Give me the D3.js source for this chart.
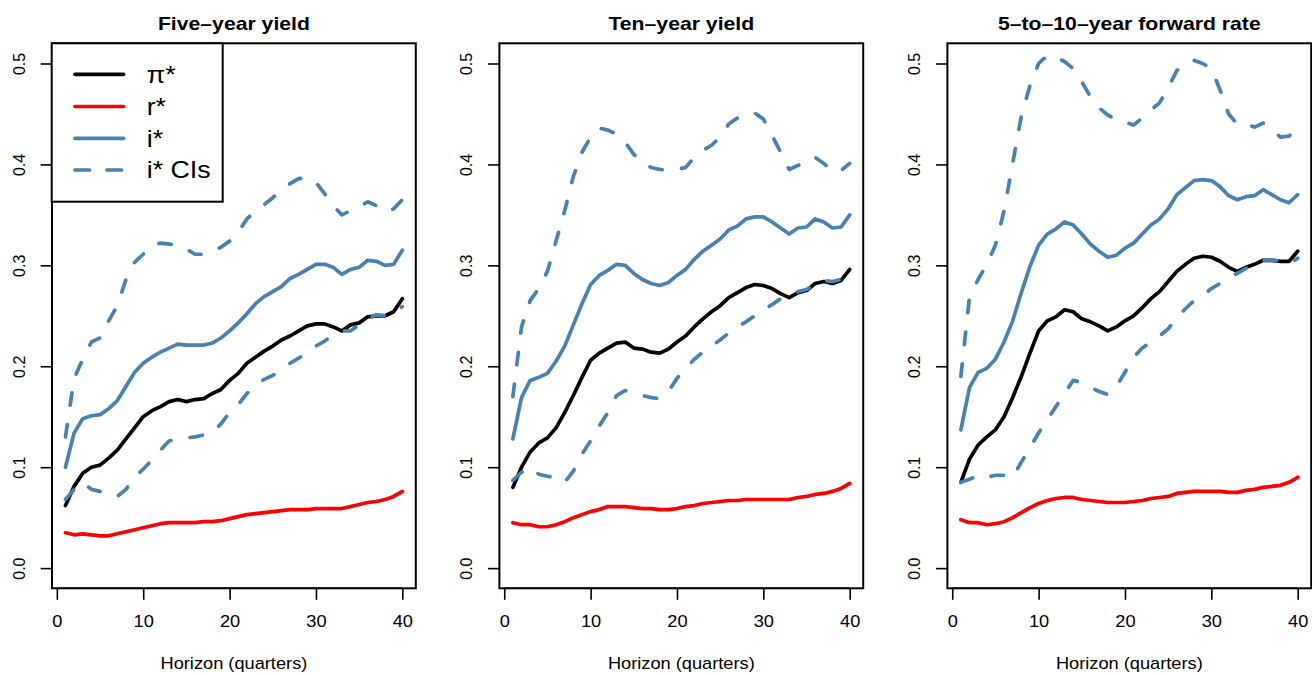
<!DOCTYPE html>
<html>
<head>
<meta charset="utf-8">
<script src="https://cdn.jsdelivr.net/npm/d3@7"></script>
<style>
  body { margin: 0; background: #fff; }
  svg { display: block; font-family: "Liberation Sans", Arial, sans-serif; }
</style>
</head>
<body>
<div id="viz"></div>
<script>
// horizon in quarters
const horizon = [1,2,3,4,5,6,7,8,9,10,11,12,13,14,15,16,17,18,19,20,
                 21,22,23,24,25,26,27,28,29,30,31,32,33,34,35,36,37,38,39,40];

const panelTitles = ["Five\u2013year yield", "Ten\u2013year yield", "5\u2013to\u201310\u2013year forward rate"];
const xTicks = [0, 10, 20, 30, 40];
const yTicks = [0, 0.1, 0.2, 0.3, 0.4, 0.5];
const legendLabels = ["\u03c0*", "r*", "i*", "i* CIs"];

// five-year yield
const fivePi = [0.062,0.081,0.094,0.100,0.102,0.109,0.117,0.128,0.139,0.150,0.156,0.160,0.165,0.167,0.165,0.167,0.168,0.173,0.177,0.186,
                0.193,0.203,0.209,0.215,0.220,0.226,0.230,0.235,0.240,0.242,0.242,0.239,0.235,0.241,0.243,0.249,0.250,0.250,0.254,0.267];
const fiveR  = [0.035,0.033,0.034,0.033,0.032,0.032,0.034,0.036,0.038,0.040,0.042,0.044,0.045,0.045,0.045,0.045,0.046,0.046,0.047,0.049,
                0.051,0.053,0.054,0.055,0.056,0.057,0.058,0.058,0.058,0.059,0.059,0.059,0.059,0.061,0.063,0.065,0.066,0.068,0.071,0.076];
const fiveI  = [0.100,0.134,0.148,0.151,0.152,0.158,0.166,0.180,0.194,0.203,0.209,0.214,0.218,0.222,0.221,0.221,0.221,0.223,0.228,0.235,
                0.243,0.252,0.262,0.269,0.274,0.279,0.287,0.291,0.296,0.301,0.301,0.298,0.291,0.296,0.298,0.305,0.304,0.300,0.301,0.315];
const fiveLo = [0.068,0.078,0.085,0.078,0.076,0.073,0.071,0.078,0.090,0.098,0.107,0.117,0.126,0.128,0.129,0.130,0.132,0.134,0.143,0.154,
                0.162,0.173,0.181,0.187,0.191,0.196,0.203,0.208,0.214,0.220,0.225,0.231,0.235,0.235,0.241,0.247,0.251,0.250,0.254,0.259];
const fiveHi = [0.130,0.188,0.207,0.224,0.228,0.245,0.260,0.286,0.303,0.311,0.320,0.322,0.321,0.320,0.316,0.311,0.311,0.314,0.318,0.324,
                0.333,0.346,0.354,0.360,0.367,0.375,0.381,0.386,0.387,0.382,0.371,0.359,0.350,0.354,0.358,0.363,0.359,0.353,0.356,0.365];

// ten-year yield
const tenPi = [0.080,0.100,0.115,0.124,0.129,0.139,0.154,0.171,0.189,0.206,0.213,0.218,0.223,0.224,0.218,0.217,0.214,0.213,0.217,0.224,
               0.230,0.239,0.247,0.254,0.260,0.268,0.273,0.278,0.281,0.280,0.277,0.272,0.268,0.273,0.275,0.282,0.284,0.282,0.285,0.296];
const tenR  = [0.045,0.043,0.043,0.041,0.041,0.043,0.046,0.050,0.053,0.056,0.058,0.061,0.061,0.061,0.060,0.059,0.059,0.058,0.058,0.059,
               0.061,0.062,0.064,0.065,0.066,0.067,0.067,0.068,0.068,0.068,0.068,0.068,0.068,0.070,0.071,0.073,0.074,0.076,0.079,0.084];
const tenI  = [0.128,0.169,0.186,0.189,0.193,0.205,0.220,0.241,0.262,0.281,0.290,0.295,0.301,0.300,0.292,0.286,0.282,0.280,0.283,0.290,
               0.296,0.306,0.314,0.320,0.326,0.335,0.339,0.346,0.348,0.348,0.343,0.337,0.331,0.337,0.338,0.346,0.343,0.337,0.338,0.350];
const tenLo = [0.087,0.095,0.100,0.093,0.091,0.090,0.085,0.096,0.113,0.126,0.141,0.154,0.171,0.176,0.173,0.171,0.169,0.168,0.175,0.188,
               0.198,0.207,0.214,0.220,0.226,0.233,0.239,0.244,0.250,0.256,0.261,0.267,0.271,0.274,0.276,0.282,0.285,0.284,0.286,0.292];
const tenHi = [0.170,0.239,0.265,0.277,0.294,0.324,0.354,0.388,0.412,0.427,0.436,0.434,0.430,0.422,0.410,0.401,0.397,0.395,0.394,0.395,
               0.397,0.407,0.414,0.419,0.427,0.440,0.446,0.449,0.451,0.445,0.429,0.412,0.395,0.399,0.401,0.407,0.401,0.393,0.394,0.401];

// 5-to-10-year forward rate
const fwdPi = [0.085,0.108,0.122,0.130,0.137,0.150,0.169,0.190,0.213,0.235,0.245,0.249,0.256,0.254,0.247,0.244,0.240,0.235,0.239,0.245,
               0.250,0.258,0.267,0.274,0.284,0.294,0.301,0.307,0.309,0.308,0.304,0.298,0.294,0.298,0.301,0.305,0.305,0.304,0.304,0.314];
const fwdR  = [0.048,0.045,0.045,0.043,0.044,0.046,0.050,0.055,0.060,0.064,0.067,0.069,0.070,0.070,0.068,0.067,0.066,0.065,0.065,0.065,
               0.066,0.067,0.069,0.070,0.071,0.074,0.075,0.076,0.076,0.076,0.076,0.075,0.075,0.077,0.078,0.080,0.081,0.082,0.085,0.090];
const fwdI  = [0.137,0.179,0.194,0.198,0.207,0.224,0.245,0.273,0.299,0.320,0.331,0.336,0.343,0.340,0.331,0.321,0.314,0.308,0.310,0.317,
               0.322,0.331,0.340,0.346,0.356,0.370,0.377,0.384,0.385,0.384,0.378,0.369,0.365,0.368,0.369,0.375,0.370,0.365,0.362,0.370];
const fwdLo = [0.085,0.088,0.092,0.090,0.092,0.092,0.090,0.105,0.119,0.134,0.147,0.160,0.173,0.186,0.184,0.179,0.175,0.172,0.180,0.194,
               0.209,0.218,0.224,0.230,0.237,0.248,0.257,0.265,0.270,0.277,0.282,0.288,0.292,0.297,0.301,0.305,0.305,0.305,0.302,0.307];
const fwdHi = [0.190,0.269,0.286,0.301,0.320,0.354,0.401,0.448,0.478,0.500,0.508,0.506,0.502,0.495,0.482,0.467,0.456,0.449,0.444,0.442,
               0.439,0.446,0.454,0.461,0.476,0.493,0.500,0.503,0.500,0.495,0.474,0.450,0.440,0.440,0.437,0.441,0.435,0.427,0.428,0.437];

const panels = [
  {title: panelTitles[0], series: [fivePi, fiveR, fiveI, fiveLo, fiveHi]},
  {title: panelTitles[1], series: [tenPi, tenR, tenI, tenLo, tenHi]},
  {title: panelTitles[2], series: [fwdPi, fwdR, fwdI, fwdLo, fwdHi]},
];

// line styles: pi*, r*, i*, lower CI, upper CI
const styles = [
  {color: "#000000", dash: null},
  {color: "#ff0000", dash: null},
  {color: "#4682b4", dash: null},
  {color: "#4682b4", dash: "12.5,19.5"},
  {color: "#4682b4", dash: "12.5,19.5"},
];

const W = 1312, H = 675;
const boxLefts = [52, 499.4, 947.4];
const boxW = 363.8, boxTop = 43.3, boxBottom = 588.3;
const lw = 3.7;
const sx = 1.14; // the reference text is a bit wider than tall

const svg = d3.select("#viz").append("svg")
  .attr("width", W)
  .attr("height", H);

panels.forEach((p, k) => {
  const left = boxLefts[k];
  const x = d3.scaleLinear().domain([-0.56, 41.56]).range([left, left + boxW]);
  const y = d3.scaleLinear().domain([-0.02, 0.52]).range([boxBottom, boxTop]);

  const g = svg.append("g");

  const line = d3.line().x((d, i) => x(horizon[i])).y(d => y(d));
  // pi*, r*, i*, then the CIs on top
  [0, 1, 2, 3, 4].forEach(s => {
    g.append("path")
      .datum(p.series[s])
      .attr("fill", "none")
      .attr("stroke", styles[s].color)
      .attr("stroke-width", lw)
      .attr("stroke-linejoin", "round")
      .attr("stroke-linecap", "round")
      .attr("stroke-dasharray", styles[s].dash)
      .attr("d", line);
  });

  // box
  g.append("rect")
    .attr("x", left).attr("y", boxTop)
    .attr("width", boxW).attr("height", boxBottom - boxTop)
    .attr("fill", "none").attr("stroke", "#000").attr("stroke-width", 2);

  // x axis
  const xa = g.append("g")
    .attr("transform", `translate(0,${boxBottom})`)
    .call(d3.axisBottom(x).tickValues(xTicks).tickSize(11.5).tickPadding(15.5).tickFormat(d3.format("d")));
  xa.select(".domain").remove();
  xa.selectAll("line").attr("stroke-width", 1.6);
  xa.selectAll("text")
    .attr("font-size", 16).attr("fill", "#000")
    .attr("transform", `scale(${sx},1)`)
    .style("font-family", "'Liberation Sans', Arial, sans-serif");
  g.append("line")
    .attr("x1", x(0)).attr("x2", x(40))
    .attr("y1", boxBottom).attr("y2", boxBottom)
    .attr("stroke", "#000").attr("stroke-width", 1.6);

  // y axis
  const ya = g.append("g")
    .attr("transform", `translate(${left},0)`)
    .call(d3.axisLeft(y).tickValues(yTicks).tickSize(11.3).tickFormat(d3.format(".1f")));
  ya.select(".domain").remove();
  ya.selectAll("line").attr("stroke-width", 1.6);
  ya.selectAll("text")
    .attr("x", null).attr("dy", null)
    .attr("text-anchor", "middle")
    .attr("transform", "translate(-27,0) rotate(-90)")
    .attr("font-size", 16).attr("fill", "#000")
    .style("font-family", "'Liberation Sans', Arial, sans-serif");

  // title
  g.append("text")
    .attr("transform", `translate(${left + boxW / 2},29.5) scale(${sx},1)`)
    .attr("text-anchor", "middle")
    .attr("font-weight", "bold")
    .attr("font-size", 18.6)
    .text(p.title);

  // x axis title
  g.append("text")
    .attr("transform", `translate(${left + boxW / 2},669) scale(${sx},1)`)
    .attr("text-anchor", "middle")
    .attr("font-size", 16)
    .text("Horizon (quarters)");
});

// legend in first panel
const leg = svg.append("g");
leg.append("rect")
  .attr("x", 51.7).attr("y", 43.3)
  .attr("width", 171).attr("height", 158.4)
  .attr("fill", "#fff").attr("stroke", "#000").attr("stroke-width", 2);
const legRows = [74.3, 106.5, 138.3, 170];
legendLabels.forEach((lab, i) => {
  leg.append("line")
    .attr("x1", 75).attr("x2", 123.5)
    .attr("y1", legRows[i]).attr("y2", legRows[i])
    .attr("stroke", styles[i].color)
    .attr("stroke-width", lw)
    .attr("stroke-linecap", "round")
    .attr("stroke-dasharray", styles[i].dash ? "14.5,17.5" : null);
  leg.append("text")
    .attr("transform", `translate(146.7,${legRows[i]}) scale(${sx},1)`)
    .attr("dy", "0.36em")
    .attr("font-size", 23.5)
    .text(lab);
});
</script>
</body>
</html>
